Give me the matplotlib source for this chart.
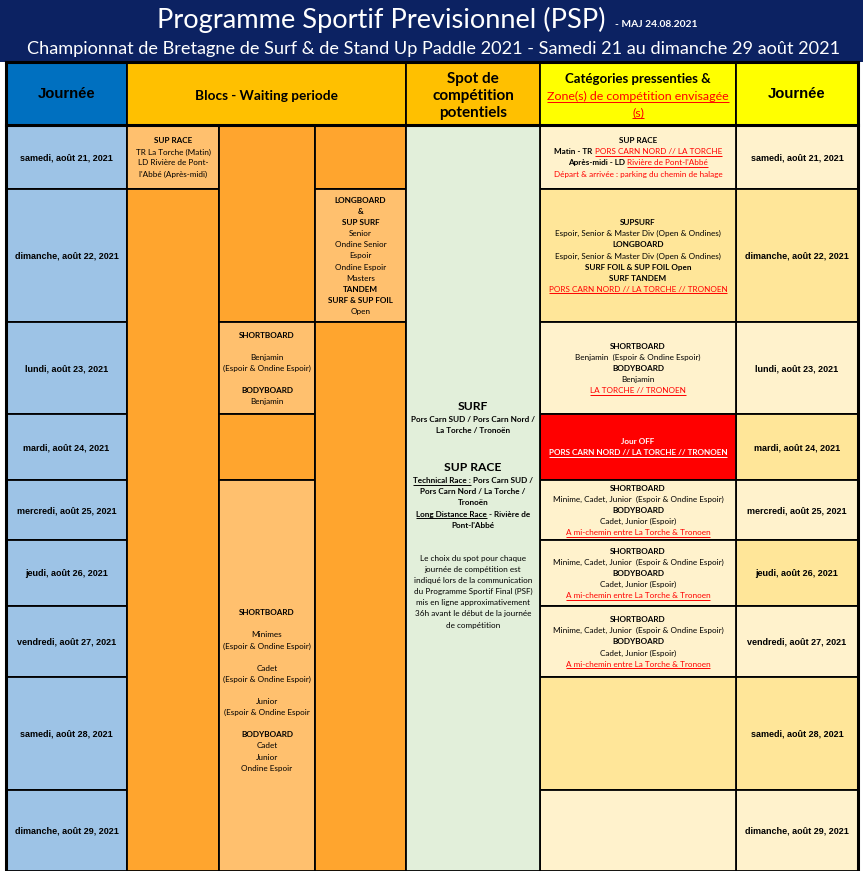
import matplotlib
matplotlib.use("Agg")
import matplotlib.pyplot as plt
from matplotlib.patches import Rectangle

# ---------------- data ----------------
title = "Programme Sportif Previsionnel (PSP)"
maj = "- MAJ 24.08.2021"
subtitle = ("Championnat de Bretagne de Surf & de Stand Up Paddle 2021 - "
            "Samedi 21 au dimanche 29 août 2021")

head_day = "Journée"
head_blocs = "Blocs - Waiting periode"
head_spot = ["Spot de", "compétition", "potentiels"]
head_cat = [[("Catégories pressenties &", "bh")],
            [("Zone(s) de compétition envisagée", "r")],
            [("(s)", "r")]]

dates = ["samedi, août 21, 2021", "dimanche, août 22, 2021", "lundi, août 23, 2021",
         "mardi, août 24, 2021", "mercredi, août 25, 2021", "jeudi, août 26, 2021",
         "vendredi, août 27, 2021", "samedi, août 28, 2021", "dimanche, août 29, 2021"]

cat_shade = ["light", "dark", "light", "off", "light", "light", "light", "dark", "light"]
day_shade = ["light", "dark", "light", "dark", "light", "dark", "light", "dark", "light"]

sb_bb = [[("SHORTBOARD", "b")],
         [("Minime, Cadet, Junior  (Espoir & Ondine Espoir)", "n")],
         [("BODYBOARD", "b")],
         [("Cadet, Junior (Espoir)", "n")],
         [("A mi-chemin entre La Torche & Tronoen", "r")]]

categories = [
    [[("SUP RACE", "b")],
     [("Matin - TR ", "b"), ("PORS CARN NORD // LA TORCHE", "r")],
     [("Après-midi - LD ", "b"), ("Rivière de Pont-l'Abbé", "r")],
     [("Départ & arrivée : parking du chemin de halage", "rn")]],
    [[("SUPSURF", "b")],
     [("Espoir, Senior & Master Div (Open & Ondines)", "n")],
     [("LONGBOARD", "b")],
     [("Espoir, Senior & Master Div (Open & Ondines)", "n")],
     [("SURF FOIL & SUP FOIL Open", "b")],
     [("SURF TANDEM", "b")],
     [("PORS CARN NORD // LA TORCHE // TRONOEN", "r")]],
    [[("SHORTBOARD", "b")],
     [("Benjamin  (Espoir & Ondine Espoir)", "n")],
     [("BODYBOARD", "b")],
     [("Benjamin", "n")],
     [("LA TORCHE // TRONOEN", "r")]],
    [[("Jour OFF", "w")],
     [("PORS CARN NORD // LA TORCHE // TRONOEN", "wu")]],
    sb_bb, sb_bb, sb_bb,
    [], [],
]

# blocs: (sub column, first row, end row, shade, lines)
blocs = [
    (0, 0, 1, "light", [[("SUP RACE", "b")], [("TR La Torche (Matin)", "n")],
                        [("LD Rivière de Pont-", "n")], [("l'Abbé (Après-midi)", "n")]]),
    (0, 1, 9, "dark", []),
    (1, 0, 2, "dark", []),
    (1, 2, 3, "light", [[("SHORTBOARD", "b")], [], [("Benjamin", "n")],
                        [("(Espoir & Ondine Espoir)", "n")], [],
                        [("BODYBOARD", "b")], [("Benjamin", "n")]]),
    (1, 3, 4, "dark", []),
    (1, 4, 9, "light", [[("SHORTBOARD", "b")], [], [("Minimes", "n")],
                        [("(Espoir & Ondine Espoir)", "n")], [], [("Cadet", "n")],
                        [("(Espoir & Ondine Espoir)", "n")], [], [("Junior", "n")],
                        [("(Espoir & Ondine Espoir", "n")], [], [("BODYBOARD", "b")],
                        [("Cadet", "n")], [("Junior", "n")], [("Ondine Espoir", "n")]]),
    (2, 0, 1, "dark", []),
    (2, 1, 2, "light", [[("LONGBOARD", "b")], [("&", "b")], [("SUP SURF", "b")],
                        [("Senior", "n")], [("Ondine Senior", "n")], [("Espoir", "n")],
                        [("Ondine Espoir", "n")], [("Masters", "n")], [("TANDEM", "b")],
                        [("SURF & SUP FOIL", "b")], [("Open", "n")]]),
    (2, 2, 9, "dark", []),
]

spot_lines = [
    [("SURF", "B")],
    [("Pors Carn SUD / Pors Carn Nord /", "b")],
    [("La Torche / Tronoën", "b")],
    [], [],
    [("SUP RACE", "B")],
    [("Technical Race :", "bu"), (" Pors Carn SUD /", "b")],
    [("Pors Carn Nord / La Torche /", "b")],
    [("Tronoën", "b")],
    [("Long Distance Race", "bu"), (" - Rivière de", "b")],
    [("Pont-l'Abbé", "b")],
    [], [],
    [("Le choix du spot pour chaque", "n")],
    [("journée de compétition est", "n")],
    [("indiqué lors de la communication", "n")],
    [("du Programme Sportif Final (PSF)", "n")],
    [("mis en ligne approximativement", "n")],
    [("36h avant le début de la journée", "n")],
    [("de compétition", "n")],
]

# ---------------- layout ----------------
W, H = 863, 871
row_edges = [125, 189, 322, 414, 480, 540, 606, 677, 790, 871]
x_day = (6, 127)
x_blocs = [127, 219, 315, 406]
x_spot = (406, 540)
x_cat = (540, 736)
x_day2 = (736, 858)
BODY = 5.85

NAVY = "#0C2262"
ORANGE = {"light": "#FFC06E", "dark": "#FFA52E"}
CAT = {"light": "#FFF2CC", "dark": "#FFE699", "off": "#FF0000"}
BLUE_HEAD, BLUE_DAY = "#0070C0", "#9DC3E6"
GOLD, YELLOW, GREEN = "#FFC000", "#FFFF00", "#E2EFDA"

CAL = ["Lato", "DejaVu Sans"]
ARI = ["Liberation Sans", "DejaVu Sans"]
STYLES = {
    "b": dict(color="black", weight="bold"),
    "bh": dict(color="black", weight="bold", scale=1.07),
    "B": dict(color="black", weight="bold", scale=1.5),
    "n": dict(color="black", weight="normal"),
    "r": dict(color="#FF0000", weight="normal", under=True),
    "rn": dict(color="#FF0000", weight="normal"),
    "w": dict(color="white", weight="bold"),
    "wu": dict(color="white", weight="bold", under=True),
    "bu": dict(color="black", weight="bold", under=True),
}

fig = plt.figure(figsize=(W / 100, H / 100), dpi=100)
ax = fig.add_axes([0, 0, 1, 1])
ax.set_xlim(0, W)
ax.set_ylim(H, 0)
ax.axis("off")
renderer = fig.canvas.get_renderer()


def cell(x0, y0, x1, y1, fc, lw=1.3):
    ax.add_patch(Rectangle((x0, y0), x1 - x0, y1 - y0, facecolor=fc,
                           edgecolor="black", lw=lw))


def put_line(xc, yc, segs, size, family=CAL):
    scale = max(STYLES[st].get("scale", 1) for _, st in segs)
    base = yc + 0.36 * size * scale * 100 / 72
    parts, total = [], 0
    for txt, st in segs:
        s = STYLES[st]
        fs = size * s.get("scale", 1)
        sp = 0.25 * fs * 100 / 72
        lead = (len(txt) - len(txt.lstrip(" "))) * sp
        trail = (len(txt) - len(txt.rstrip(" "))) * sp
        t = ax.text(0, base, txt.strip(" "), fontsize=fs, family=family,
                    color=s["color"], weight=s["weight"], va="baseline", ha="left")
        w = t.get_window_extent(renderer).width
        parts.append((t, lead, w, trail, s.get("under", False), s["color"]))
        total += lead + w + trail
    x = xc - total / 2
    for t, lead, w, trail, under, col in parts:
        x += lead
        t.set_x(x)
        if under:
            ax.plot([x, x + w], [base + 1.6, base + 1.6], color=col, lw=0.7,
                    solid_capstyle="butt")
        x += w + trail


def put_block(xc, yc, lines, size, step=11.1):
    hs = [step * (max(STYLES[st].get("scale", 1) for _, st in ln) if ln else 1)
          for ln in lines]
    ys = [0.0]
    for i in range(1, len(lines)):
        ys.append(ys[-1] + (hs[i - 1] + hs[i]) / 2)
    off = yc - ys[-1] / 2
    for ln, y in zip(lines, ys):
        if ln:
            put_line(xc, y + off, ln, size)


# title band
ax.add_patch(Rectangle((0, 0), W, 62, facecolor=NAVY, edgecolor="none"))
ax.text(381, 28, title, fontsize=19.6, family=CAL, color="white", ha="center",
        va="baseline")
ax.text(615, 27, maj, fontsize=7.4, family=CAL, color="white", weight="bold",
        ha="left", va="baseline")
ax.text(434, 54, subtitle, fontsize=13.1, family=CAL, color="white", ha="center",
        va="baseline")

# header row
hy0, hy1 = 62, row_edges[0]
hyc = (hy0 + hy1) / 2
cell(x_day[0], hy0, x_day[1], hy1, BLUE_HEAD)
cell(x_blocs[0], hy0, x_blocs[-1], hy1, GOLD)
cell(x_spot[0], hy0, x_spot[1], hy1, GOLD)
cell(x_cat[0], hy0, x_cat[1], hy1, YELLOW)
cell(x_day2[0], hy0, x_day2[1], hy1, YELLOW)
ax.text(sum(x_day) / 2, hyc + 5, head_day, fontsize=10.7, family=ARI,
        weight="bold", ha="center", va="baseline")
ax.text(sum(x_day2) / 2, hyc + 5, head_day, fontsize=10.7, family=ARI,
        weight="bold", ha="center", va="baseline")
put_line((x_blocs[0] + x_blocs[-1]) / 2, hyc + 2, [(head_blocs, "b")], 9.8)
put_block(sum(x_spot) / 2, hyc + 1, [[(s, "b")] for s in head_spot], 11, step=17)
put_block(sum(x_cat) / 2, hyc + 2, head_cat, 8.9, step=16.5)

# date columns and categories
for i, d in enumerate(dates):
    y0, y1 = row_edges[i], row_edges[i + 1]
    yc = (y0 + y1) / 2
    cell(x_day[0], y0, x_day[1], y1, BLUE_DAY)
    ax.text(sum(x_day) / 2, yc + 3, d, fontsize=6.5, family=ARI, weight="bold",
            ha="center", va="baseline")
    cell(x_day2[0], y0, x_day2[1], y1, CAT[day_shade[i]])
    ax.text(sum(x_day2) / 2, yc + 3, d, fontsize=6.5, family=ARI, weight="bold",
            ha="center", va="baseline")
    cell(x_cat[0], y0, x_cat[1], y1, CAT[cat_shade[i]])
    put_block(sum(x_cat) / 2, yc, categories[i], BODY)

# blocs
for col, r0, r1, shade, lines in blocs:
    y0, y1 = row_edges[r0], row_edges[r1]
    cell(x_blocs[col], y0, x_blocs[col + 1], y1, ORANGE[shade])
    yc = (y0 + y1) / 2 if r1 < 9 else 690
    put_block((x_blocs[col] + x_blocs[col + 1]) / 2, yc, lines, BODY)

# spot column
cell(x_spot[0], row_edges[0], x_spot[1], row_edges[-1], GREEN)
put_block(sum(x_spot) / 2, 515, spot_lines, BODY)

# outer frame
ax.plot([x_day[0], x_day2[1]], [62, 62], color="black", lw=2.2)
ax.plot([x_day[0], x_day2[1]], [row_edges[0], row_edges[0]], color="black", lw=2.2)
ax.plot([x_day[0], x_day[0]], [62, H], color="black", lw=2.2)
ax.plot([x_day2[1], x_day2[1]], [62, H], color="black", lw=2.2)

fig.savefig("out.png", dpi=100)
